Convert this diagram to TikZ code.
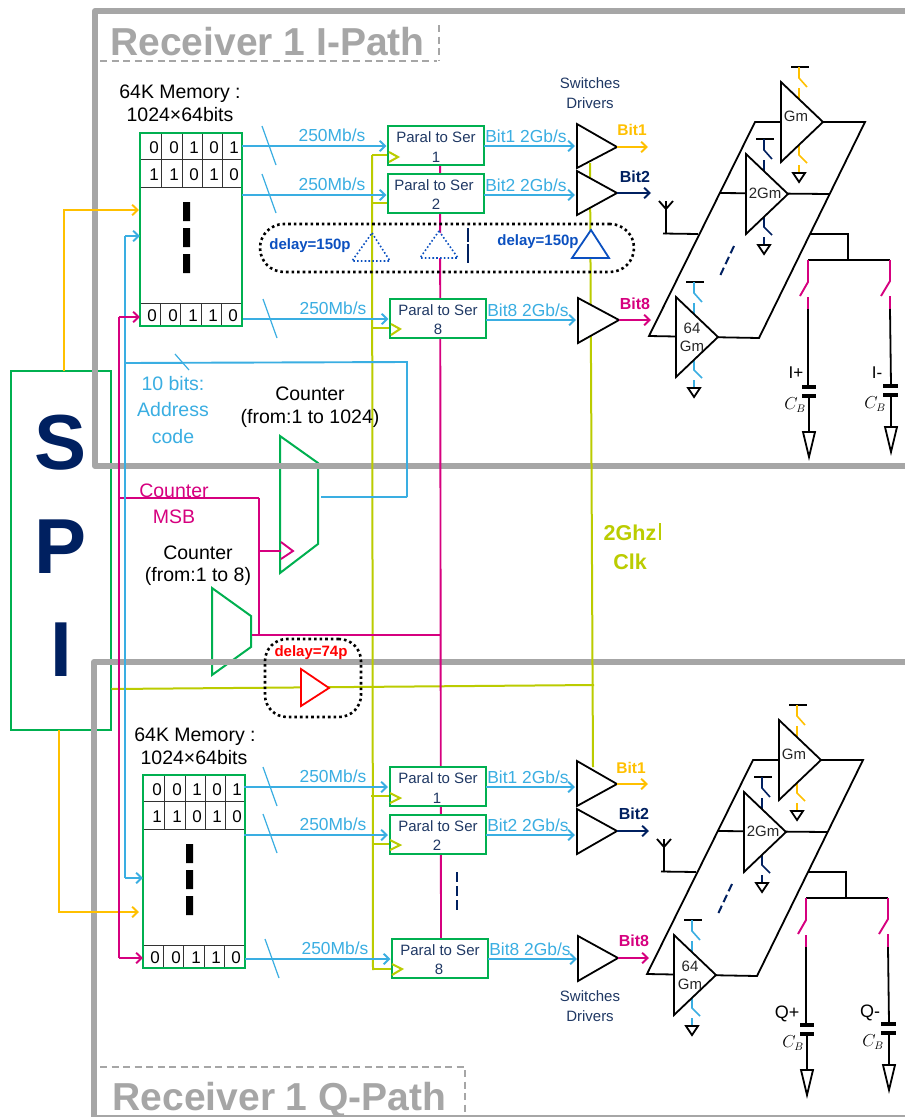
\documentclass[tikz,border=0pt]{standalone}
\usepackage{fontspec}
\setmainfont{Liberation Sans}
\usetikzlibrary{arrows.meta}
\definecolor{cgray}{HTML}{A6A6A6}
\definecolor{cgreen}{HTML}{00B050}
\definecolor{cblue}{HTML}{3AAEE2}
\definecolor{cpink}{HTML}{D6007F}
\definecolor{cyel}{HTML}{FFC000}
\definecolor{cnavy}{HTML}{002060}
\definecolor{cnav}{HTML}{1F3864}
\definecolor{cclk}{HTML}{BBCC00}
\definecolor{cdel}{HTML}{0B50C0}
\definecolor{cred}{HTML}{FF0000}
\tikzset{
  t/.style={inner sep=0pt,outer sep=0pt},
  frameline/.style={draw=cgray,line width=6pt,line join=round},
  dashbox/.style={draw=cgray,line width=2.8pt,dash pattern=on 7pt off 4.5pt},
  gbox/.style={draw=cgreen,line width=2pt},
  pbox/.style={gbox,fill=white,minimum width=96pt,minimum height=39pt,inner sep=0pt,outer sep=0pt},
  mbox/.style={gbox,minimum width=102pt,minimum height=193pt,inner sep=0pt,outer sep=0pt},
  cell/.style={draw=black!80,line width=1pt},
  tip/.style={-{Straight Barb[length=5.5pt,width=10.5pt]}},
  wb/.style={draw=cblue,line width=1.9pt},
  wbt/.style={wb,tip,shorten >=1.5pt},
  wp/.style={draw=cpink,line width=1.9pt},
  wy/.style={draw=cyel,line width=1.9pt},
  wn/.style={draw=cnavy,line width=1.9pt},
  wc/.style={draw=cclk,line width=2pt},
  slash/.style={draw=cblue,line width=1.2pt},
  amp/.style={draw=black,line width=1.8pt,fill=white,line join=miter},
  bk/.style={draw=black,line width=1.8pt},
  dotbig/.style={draw=black,line width=2.6pt,dash pattern=on 2.6pt off 3pt,rounded corners=#1,inner sep=0pt,outer sep=0pt},
  dottri/.style={draw=cdel,line width=1.6pt,dash pattern=on 1.6pt off 2.2pt},
  thickdash/.style={fill=black},
}
% text helper: optional style, name, position, size, text (centre = middle of capitals)
\newcommand\tx[5][]{\node[t,#1] (#2) at (#3) {\fontsize{#4}{#4}\selectfont\rule{0pt}{.72em}\smash{#5}};}
% memory block
\newcommand\memblock[2]{%
\begin{scope}[shift={(#2)}]
  \node[mbox,fill=white] (#1) at (191,229.5) {};
  \draw[cell] (140,159)--(242,159) (140,187)--(243,187) (140,303)--(242,303);
  \draw[cell] (161,133)--(161,187) (182,133)--(182,187) (202,133)--(202,187) (222,133)--(222,187);
  \draw[cell] (160,303)--(160,326) (180,303)--(180,326) (201,303)--(201,326) (221,303)--(221,326);
  \node[mbox] at (191,229.5) {};
  \tx{#1a1}{154,147}{17}{0}\tx{#1a2}{174,147}{17}{0}\tx{#1a3}{194,147}{17}{1}\tx{#1a4}{214,147}{17}{0}\tx{#1a5}{234,147}{17}{1}
  \tx{#1b1}{154,174}{17}{1}\tx{#1b2}{174,174}{17}{1}\tx{#1b3}{194,174}{17}{0}\tx{#1b4}{214,174}{17}{1}\tx{#1b5}{234,174}{17}{0}
  \tx{#1c1}{152,315}{17}{0}\tx{#1c2}{173,315}{17}{0}\tx{#1c3}{193,315}{17}{1}\tx{#1c4}{213,315}{17}{1}\tx{#1c5}{233,315}{17}{0}
  \fill[thickdash] (183,202) rectangle (190,221) (183,228) rectangle (190,247) (183,254) rectangle (190,273);
\end{scope}}
% amplifier with its two switches
\newcommand\ampsw[2]{%
\begin{scope}[shift={(#2)}]
  \draw[bk] (791,67)--(809,67);
  \draw[draw=#1,line width=1.6pt] (799,67)--(799,78)--(807,87) (799,88)--(799,99) (799,144)--(799,155)--(807,163) (799,165)--(799,173);
  \draw[amp] (781,82)--(781,162)--(823,122)--cycle;
  \draw[bk,line join=miter] (793,173)--(805,173)--(799,182)--cycle;
\end{scope}}
% transconductance bank with output switches and capacitors
\newcommand\rfblock[2]{%
\begin{scope}[shift={(#2)}]
  \draw[bk] (755,122)--(865,122)--(759,338)--(649,336)--cycle;
  \draw[bk] (720,193)--(829,194);
  \ampsw{cyel}{0,0}
  \ampsw{cnavy}{-35,72}
  \ampsw{cblue}{-105,215}
  \tx[text=black!85]{#1gm}{796,116}{15}{Gm}
  \tx[text=black!85]{#1gmb}{765,193}{15}{2Gm}
  \tx[text=black!85]{#1gmc}{692,328}{15}{64}
  \tx[text=black!85]{#1gmd}{692,346}{15}{Gm}
  \draw[bk] (666,234)--(666,201) (659,201)--(666,209)--(673,201);
  \draw[bk] (663,233.5)--(698,234);
  \draw[draw=cnavy,line width=2pt,dash pattern=on 8pt off 4pt] (734,246)--(719,278);
  \draw[bk] (810,234)--(848,234)--(848,260) (808,260)--(890,260);
  \draw[wp] (808,260)--(808,282)--(800,296) (808,297)--(808,309);
  \draw[wp] (890,260)--(890,281)--(881,296) (890,296)--(890,309);
  \draw[bk] (808,309)--(808,385) (890,309)--(891,385);
  \draw[draw=black,line width=3.8pt] (802,387)--(816,387) (802,396)--(816,396) (883,386)--(898,386) (883,395)--(898,395);
  \draw[bk] (809,397)--(809,432) (891,396)--(891,427);
  \draw[bk,line join=miter] (803,432)--(815,432)--(809,457)--cycle;
  \draw[bk,line join=miter] (885,427)--(897,427)--(891,452)--cycle;
  \tx{#1cb}{795,404}{16}{$C_B$}
  \tx{#1cc}{875,403}{16}{$C_B$}
\end{scope}}
\begin{document}
\begin{tikzpicture}[x=1pt,y=-1pt]
\useasboundingbox (0,0) rectangle (905,1117);
\fill[white] (0,0) rectangle (905,1117);

% SPI box
\node[gbox,fill=white,minimum width=100.5pt,minimum height=359pt,inner sep=0pt,outer sep=0pt] (spi) at (60.75,550.5) {};
\tx[text=cnavy]{spiS}{61,441}{78}{\bfseries S}
\tx[text=cnavy]{spiP}{61,545}{78}{\bfseries P}
\tx[text=cnavy]{spiI}{61,648}{78}{\bfseries I}

% counters
\draw[gbox] (280,436)--(318,463)--(318,544)--(280,573)--cycle;
\draw[gbox] (212,588)--(251,616)--(251,647)--(212,675)--cycle;
\coordinate (cntAo) at (321,497);
\coordinate (cntBo) at (252,635);

% grey receiver frames
\draw[frameline] (905,11)--(95,11)--(95,466)--(905,466);
\draw[frameline] (905,662)--(94,662)--(94,1117);
\draw[draw=cgray,line width=3pt] (94,1116)--(905,1116);
\draw[dashbox] (100,61)--(437,61) (439,25)--(439,60);
\draw[dashbox] (100,1067)--(465,1067)--(465,1114);
\tx[text=cgray]{titA}{267.5,41}{39}{\bfseries Receiver 1 I-Path}
\tx[text=cgray]{titB}{279.5,1096}{39}{\bfseries Receiver 1 Q-Path}

% SPI outputs (yellow)
\draw[wy,tip] (64,371)--(64,210)--(139,210);
\draw[wy,tip] (59,730)--(59,912)--(139,912);

% clock tree
\draw[wc] (111.5,689)--(594,685);
\draw[wc] (590,163)--(593,767);
\draw[wc] (372,155)--(373,970);
\draw[wc] (372,155)--(388,155) (372,203)--(388,203) (372,328)--(390,328);
\draw[wc] (371,796)--(389,796) (372,844)--(389,844) (373,969)--(392,969);

% pink: counter MSB and clock distribution
\draw[wp] (440,126)--(441,938);
\draw[wp] (cntBo)--(440.5,635);
\draw[wp] (259,498)--(259,635);
\draw[wp] (119,498)--(259,498);
\draw[wp] (259,551)--(281,551);
\draw[wp,line join=miter] (281,542)--(293,551)--(281,559);
\coordinate (pkT) at (119,317);
\coordinate (pkB) at (119,958);
\draw[wp] (119,317)--(119,958);

% blue: address code
\coordinate (blT) at (125,236);
\coordinate (blB) at (125,878);
\draw[wb] (125,236)--(125,878);
\draw[wb] (125,363)--(407,362)--(407,497);
\draw[wb] (407,497)--(cntAo);
\draw[slash] (175,354)--(189,370);

% memories
\memblock{mA}{0,0}
\memblock{mB}{3,642}
\draw[wp,tip] (pkT)--(mA.west |- pkT);
\draw[wp,tip] (pkB)--(mB.west |- pkB);
\draw[wb,tip] (blT)--(mA.west |- blT);
\draw[wb,tip] (blB)--(mB.west |- blB);
\tx{memAa}{180,91}{19.5}{64K Memory :}
\tx{memAb}{180,114}{19.5}{1024×64bits}
\tx{memBa}{195,734}{19.5}{64K Memory :}
\tx{memBb}{194,757}{19.5}{1024×64bits}

% parallel to serial boxes
\node[pbox] (pA1) at (436,145.5) {};
\node[pbox] (pA2) at (436,193.5) {};
\node[pbox] (pA8) at (438,318.5) {};
\node[pbox] (pB1) at (437.5,786.5) {};
\node[pbox] (pB2) at (437.5,834) {};
\node[pbox] (pB8) at (440,958) {};
\foreach \n/\a/\b/\c/\d/\e in {pA1/436/137/436/157/1,pA2/434/185/436/204/2,pA8/438/310/438/329/8,pB1/438/778/437/798/1,pB2/438/826/437/845/2,pB8/440/950/439/969/8}{
  \tx[text=cnav]{\n a}{\a,\b}{15}{Paral to Ser}
  \tx[text=cnav]{\n b}{\c,\d}{15}{\e}
}
% clock input marks
\draw[wc,line join=miter] (389,152)--(398,157)--(389,162);
\draw[wc,line join=miter] (391,324)--(400,329)--(391,335);
\draw[wc,line join=miter] (390,793)--(400,798)--(390,803);
\draw[wc,line join=miter] (390,840)--(400,845)--(390,850);
\draw[wc,line join=miter] (392,964)--(402,969)--(392,975);

% memory to P2S
\coordinate (mo1) at (242,146); \coordinate (mo2) at (242,195); \coordinate (mo3) at (243,319);
\coordinate (mo4) at (244,787); \coordinate (mo5) at (244,835); \coordinate (mo6) at (245,959);
\draw[wbt] (mo1)--(pA1.west |- mo1);
\draw[wbt] (mo2)--(pA2.west |- mo2);
\draw[wbt] (mo3)--(pA8.west |- mo3);
\draw[wbt] (mo4)--(pB1.west |- mo4);
\draw[wbt] (mo5)--(pB2.west |- mo5);
\draw[wbt] (mo6)--(pB8.west |- mo6);
\draw[slash] (262,126)--(276,165) (262,174)--(276,213) (263,299)--(277,338);
\draw[slash] (263,767)--(277,806) (263,814)--(277,853) (265,939)--(279,978);
\tx[text=cblue]{rA}{332,135}{17.4}{250Mb/s}
\tx[text=cblue]{rB}{332,184}{17.4}{250Mb/s}
\tx[text=cblue]{rC}{333,308}{17.4}{250Mb/s}
\tx[text=cblue]{rD}{333,776}{17.4}{250Mb/s}
\tx[text=cblue]{rE}{333,824}{17.4}{250Mb/s}
\tx[text=cblue]{rF}{335,948}{17.4}{250Mb/s}

% delay groups
\node[dotbig=24pt,minimum width=374pt,minimum height=48pt] (dlyA) at (447,248) {};
\node[dotbig=22pt,minimum width=96pt,minimum height=78pt] (dlyB) at (313,678) {};
\draw[dottri] (372,233)--(390,261)--(352,261)--cycle;
\draw[dottri,fill=white] (439,231)--(458,258)--(420,258)--cycle;
\draw[draw=cnavy,line width=2.4pt,dash pattern=on 14pt off 2pt on 19pt] (468,228)--(468,263);
\draw[draw=cnavy,line width=2.6pt,dash pattern=on 10pt off 4pt] (457,872)--(457,913);
\draw[draw=cdel,line width=1.8pt,fill=white,line join=miter] (591,230)--(609,258)--(572,258)--cycle;
\tx[text=cdel]{dA}{310,244}{15}{\bfseries delay=150p}
\tx[text=cdel]{dB}{538,240}{15}{\bfseries delay=150p}
\tx[text=cred]{dC}{311,651}{15}{\bfseries delay=74p}
\draw[draw=cred,line width=1.8pt,fill=white,line join=miter] (301,669)--(329,688)--(301,706)--cycle;

% drivers
\foreach \nm/\x/\ya/\yb/\xt/\yt in {drA1/577/124/168/617/147,drA2/577/171/215/617/193,drA8/578/298/343/619/320,drB1/577/761/806/617/784,drB2/577/809/854/617/831,drB8/578/936/981/618/958}{
  \draw[amp] (\x,\ya)--(\x,\yb)--(\xt,\yt)--cycle;
  \coordinate (\nm) at (\xt,\yt);
}
\coordinate (pA1o) at (484,146); \coordinate (pA2o) at (484,195); \coordinate (pA8o) at (486,320);
\coordinate (pB1o) at (486,787); \coordinate (pB2o) at (486,835); \coordinate (pB8o) at (488,959);
\coordinate (drA1i) at (575,146); \coordinate (drA2i) at (575,195); \coordinate (drA8i) at (576,320);
\coordinate (drB1i) at (575,787); \coordinate (drB2i) at (575,835); \coordinate (drB8i) at (577,959);
\draw[wb,tip] (pA1o)--(drA1i);
\draw[wb,tip] (pA2o)--(drA2i);
\draw[wb,tip] (pA8o)--(drA8i);
\draw[wb,tip] (pB1o)--(drB1i);
\draw[wb,tip] (pB2o)--(drB2i);
\draw[wb,tip] (pB8o)--(drB8i);
\tx[text=cblue]{sA}{526,136}{17.4}{Bit1 2Gb/s}
\tx[text=cblue]{sB}{526,185}{17.4}{Bit2 2Gb/s}
\tx[text=cblue]{sC}{528,310}{17.4}{Bit8 2Gb/s}
\tx[text=cblue]{sD}{528,777}{17.4}{Bit1 2Gb/s}
\tx[text=cblue]{sE}{528,825}{17.4}{Bit2 2Gb/s}
\tx[text=cblue]{sF}{530,949}{17.4}{Bit8 2Gb/s}

\coordinate (oA1) at (648,147); \coordinate (oA2) at (651,193); \coordinate (oA8) at (651,320);
\coordinate (oB1) at (648,784); \coordinate (oB2) at (649,831); \coordinate (oB8) at (649,958);
\draw[wy,tip] (drA1)--(oA1);
\draw[wn,tip] (drA2)--(oA2);
\draw[wp,tip] (drA8)--(oA8);
\draw[wy,tip] (drB1)--(oB1);
\draw[wn,tip] (drB2)--(oB2);
\draw[wp,tip] (drB8)--(oB8);
\tx[text=cyel]{bA}{632,130}{15.5}{\bfseries Bit1}
\tx[text=cnavy]{bB}{635,177}{16}{\bfseries Bit2}
\tx[text=cpink]{bC}{635,304}{16}{\bfseries Bit8}
\tx[text=cyel]{bD}{631,768}{15.5}{\bfseries Bit1}
\tx[text=cnavy]{bE}{634,814}{16}{\bfseries Bit2}
\tx[text=cpink]{bF}{634,941}{16}{\bfseries Bit8}
\tx[text=cnav]{swA}{590,83}{15}{Switches}
\tx[text=cnav]{swB}{590,103}{15}{Drivers}
\tx[text=cnav]{swC}{590,996}{15}{Switches}
\tx[text=cnav]{swD}{590,1016}{15}{Drivers}

% RF banks
\rfblock{rfA}{0,0}
\rfblock{rfB}{-2,638}
\tx{ip}{796,372}{17}{I+}
\tx{im}{877,372}{17}{I-}
\tx{qp}{787,1012}{18}{Q+}
\tx{qm}{870,1011}{18}{Q-}

% remaining labels
\tx[text=cblue]{lbA}{173,383}{19.5}{10 bits:}
\tx[text=cblue]{lbB}{173,409}{19.5}{Address}
\tx[text=cblue]{lbC}{173,436}{19.5}{code}
\tx{lbD}{310,393}{19.5}{Counter}
\tx{lbE}{310,416}{19.5}{(from:1 to 1024)}
\tx[text=cpink]{lbF}{174,490}{19.5}{Counter}
\tx[text=cpink]{lbG}{174,516}{19.5}{MSB}
\tx{lbH}{198,552}{19.5}{Counter}
\tx{lbI}{198,574}{19.5}{(from:1 to 8)}
\tx[text=cclk]{lbJ}{630,533}{21.5}{\bfseries 2Ghz}
\tx[text=cclk]{lbK}{630,562}{21.5}{\bfseries Clk}
\draw[draw=cclk,line width=1.2pt] (660,523)--(660,540);
\end{tikzpicture}
\end{document}
